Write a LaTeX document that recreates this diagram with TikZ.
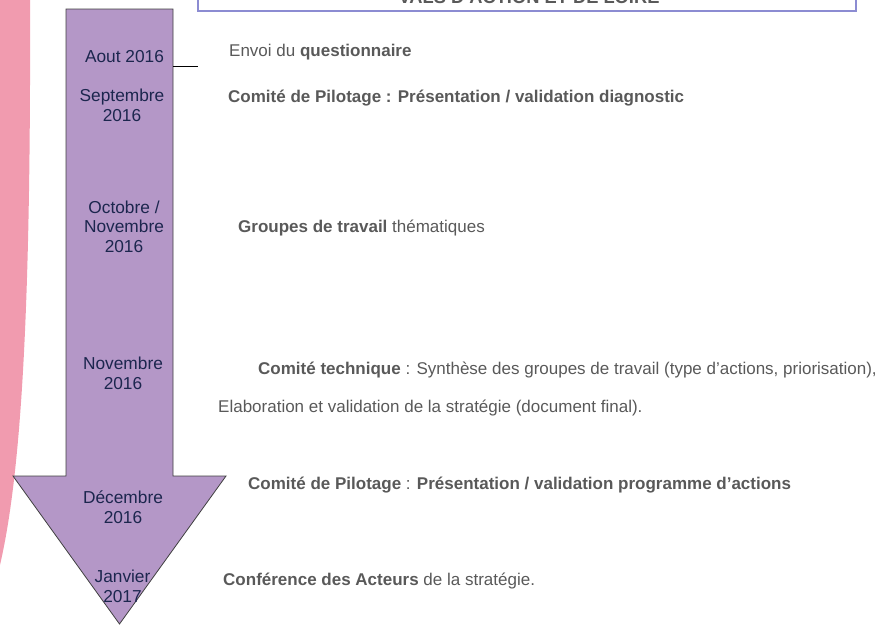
\documentclass[tikz,border=0pt]{standalone}
\usepackage{fontspec}
\setmainfont{Liberation Sans}
\usetikzlibrary{positioning}

\definecolor{arrowfill}{RGB}{180,151,199}
\definecolor{datecol}{RGB}{28,38,78}
\definecolor{txtgray}{RGB}{89,89,89}
\definecolor{pinkband}{RGB}{241,155,175}
\definecolor{boxline}{RGB}{140,140,210}

\begin{document}
\begin{tikzpicture}[x=1pt,y=-1pt,
    date/.style={align=center,anchor=base,inner sep=0pt,text=datecol,
        font=\fontsize{17.3}{19.5}\selectfont},
    event/.style={anchor=base west,inner sep=0pt,text=txtgray,
        font=\fontsize{17}{20}\selectfont}]

            \clip (0,0) rectangle (890,624);

            % pink band on the left
            \fill[pinkband] (0,0) -- (30,0) .. controls (31,300) and (22,470) .. (0,565) -- cycle;

            % header box, cut by the top edge
            \draw[boxline,line width=1.2pt] (198,-5) rectangle (856,11);
            \node[anchor=base,inner sep=0pt,text=txtgray,font=\bfseries\fontsize{18.3}{20}\selectfont]
                (title) at (529,3) {VALS D'ACTION ET DE LOIRE};

            % the time arrow
            \coordinate (tl) at (66,9);
            \coordinate (tr) at (173,9);
            \coordinate (br) at (173,476);
            \coordinate (hr) at (226,476);
            \coordinate (tip) at (119.5,624);
            \coordinate (hl) at (13,476);
            \coordinate (bl) at (66,476);
            \draw[fill=arrowfill,draw=black!75,line width=0.8pt]
                (tl) -- (tr) -- (br) -- (hr) -- (tip) -- (hl) -- (bl) -- cycle;

            \coordinate (shaftR) at (173,66);
            \coordinate[right=25pt of shaftR] (tick);
            \draw[line width=0.8pt] (shaftR) -- (tick);

            % dates (base = last line)
            \node[date] (aout) at (124.5,62)  {Aout 2016};
            \node[date] (sept) at (122,121)   {Septembre\\2016};
            \node[date] (oct)  at (124,252)   {Octobre /\\Novembre\\2016};
            \node[date] (nov)  at (123,389)   {Novembre\\2016};
            \node[date] (dec)  at (123,523)   {Décembre\\2016};
            \node[date] (janv) at (122.5,602) {Janvier\\2017};

            % steps
            \node[event] (envoi)  at (229,56)  {Envoi du \textbf{questionnaire}};
            \node[event] (copil1) at (228,102) {\textbf{Comité de Pilotage : Présentation / validation diagnostic}};
            \node[event] (gt)     at (238,232) {\textbf{Groupes de travail} thématiques};
            \node[event] (cotech) at (258,374) {\textbf{Comité technique} : Synthèse des groupes de travail (type d’actions, priorisation),};
            \node[event] (elab)   at (218,412) {Elaboration et validation de la stratégie (document final).};
            \node[event] (copil2) at (248,489) {\textbf{Comité de Pilotage} : \textbf{Présentation / validation programme d'actions}};
            \node[event] (conf)   at (223,585) {\textbf{Conférence des Acteurs} de la stratégie.};

        \end{tikzpicture}
\end{document}
